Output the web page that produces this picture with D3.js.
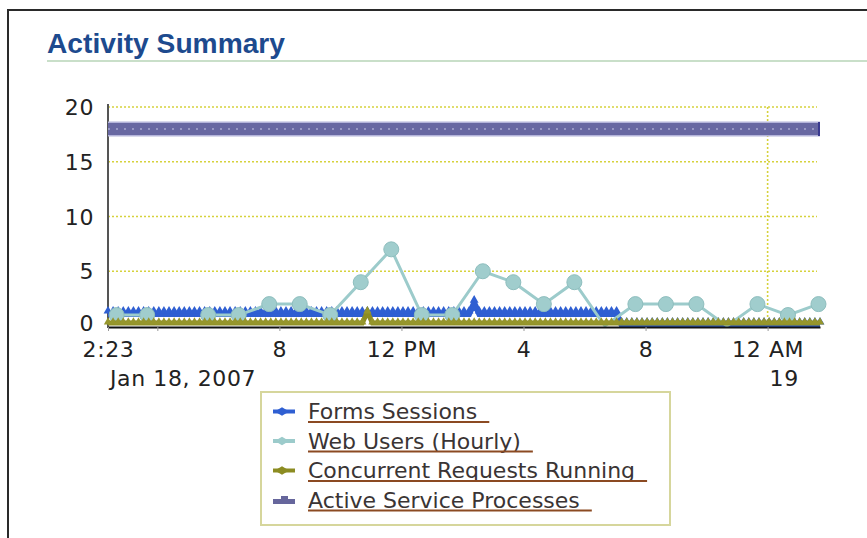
<!DOCTYPE html>
<html>
<head>
<meta charset="utf-8">
<script src="https://cdn.jsdelivr.net/npm/d3@7"></script>
<style>
body{margin:0;background:#fff;}
svg{display:block;font-family:"DejaVu Sans",Verdana,sans-serif;}
</style>
</head>
<body>
<svg width="867" height="538"></svg>
<script>
// sampled series: one value every 10 minutes from 2:23 AM
var startTime = "2007-01-18 02:23";
var endTime = "2007-01-19 01:43";
var stepMinutes = 10;

var formsSessions = [
  1,1,1,1,1,1,1,1,1,1,1,1,1,1,1,1,1,1,1,1,
  1,1,1,1,1,1,1,1,1,1,1,1,1,1,1,1,1,1,1,1,
  1,1,1,1,1,1,1,1,1,1,1,1,1,1,1,1,1,1,1,1,
  1,1,1,1,1,1,1,1,1,1,1,1,2,1,1,1,1,1,1,1,
  1,1,1,1,1,1,1,1,1,1,1,1,1,1,1,1,1,1,1,1,
  1,0,0,0,0,0,0,0,0,0,0,0,0,0,0,0,0,0,0,0,
  0,0,0,0,0,0,0,0,0,0,0,0,0,0,0,0,0,0,0,0,
  0];
var concurrentRequests = [
  0,0,0,0,0,0,0,0,0,0,0,0,0,0,0,0,0,0,0,0,
  0,0,0,0,0,0,0,0,0,0,0,0,0,0,0,0,0,0,0,0,
  0,0,0,0,0,0,0,0,0,0,0,1,0,0,0,0,0,0,0,0,
  0,0,0,0,0,0,0,0,0,0,0,0,0,0,0,0,0,0,0,0,
  0,0,0,0,0,0,0,0,0,0,0,0,0,0,0,0,0,0,0,0,
  0,0,0,0,0,0,0,0,0,0,0,0,0,0,0,0,0,0,0,0,
  0,0,0,0,0,0,0,0,0,0,0,0,0,0,0,0,0,0,0,0,
  0];
var activeProcesses = [
  18,18,18,18,18,18,18,18,18,18,18,18,18,18,18,18,18,18,18,18,
  18,18,18,18,18,18,18,18,18,18,18,18,18,18,18,18,18,18,18,18,
  18,18,18,18,18,18,18,18,18,18,18,18,18,18,18,18,18,18,18,18,
  18,18,18,18,18,18,18,18,18,18,18,18,18,18,18,18,18,18,18,18,
  18,18,18,18,18,18,18,18,18,18,18,18,18,18,18,18,18,18,18,18,
  18,18,18,18,18,18,18,18,18,18,18,18,18,18,18,18,18,18,18,18,
  18,18,18,18,18,18,18,18,18,18,18,18,18,18,18,18,18,18,18,18,
  18];

// hourly series
var webUserTimes = [
  "2007-01-18 02:40","2007-01-18 03:40","2007-01-18 04:40","2007-01-18 05:40",
  "2007-01-18 06:40","2007-01-18 07:40","2007-01-18 08:40","2007-01-18 09:40",
  "2007-01-18 10:40","2007-01-18 11:40","2007-01-18 12:40","2007-01-18 13:40",
  "2007-01-18 14:40","2007-01-18 15:40","2007-01-18 16:40","2007-01-18 17:40",
  "2007-01-18 18:40","2007-01-18 19:40","2007-01-18 20:40","2007-01-18 21:40",
  "2007-01-18 22:40","2007-01-18 23:40","2007-01-19 00:40","2007-01-19 01:40"];
var webUsers = [1,1,null,1,1,2,2,1,4,7,1,1,5,4,2,4,0,2,2,2,0,2,1,2];

var tickTimes = ["2007-01-18 02:23","2007-01-18 04:00","2007-01-18 08:00","2007-01-18 12:00",
                 "2007-01-18 16:00","2007-01-18 20:00","2007-01-19 00:00"];
var tickLabels = ["2:23","","8","12 PM","4","8","12 AM"];
var tickSubLabels = ["Jan 18, 2007","","","","","","19"];
var yTicks = [0,5,10,15,20];

var seriesNames = ["Forms Sessions","Web Users (Hourly)","Concurrent Requests Running","Active Service Processes"];
var seriesColors = ["#2f5fd2","#9ccbcb","#8c8c22","#66669c"];

var parseTime = d3.timeParse("%Y-%m-%d %H:%M");
var svg = d3.select("svg");
var plot = {left:108, right:820, top:107, bottom:326};

var x = d3.scaleTime()
          .domain([parseTime(startTime), parseTime(endTime)])
          .range([plot.left, plot.right]);
var y = d3.scaleLinear().domain([0,20]).range([plot.bottom, plot.top]);

var t0 = parseTime(startTime);
function sampled(values){
  return values.map(function(v,i){
    return {t: d3.timeMinute.offset(t0, i*stepMinutes), v: v};
  });
}
var formsData = sampled(formsSessions);
var concData = sampled(concurrentRequests);
var activeData = sampled(activeProcesses);
var webData = webUsers.map(function(v,i){ return {t: parseTime(webUserTimes[i]), v: v}; });

// frame + title
svg.append("path").attr("d","M8,538V10H867")
   .attr("fill","none").attr("stroke","#2a2a2a").attr("stroke-width",2);
svg.append("text").attr("x",47).attr("y",53)
   .attr("font-family","'Liberation Sans Narrow','Arial Narrow','Liberation Sans',sans-serif")
   .attr("font-weight","bold").attr("font-size",28).attr("fill","#1d4a8e")
   .attr("textLength",238).attr("lengthAdjust","spacingAndGlyphs")
   .text("Activity Summary");
svg.append("line").attr("x1",47).attr("x2",867).attr("y1",61).attr("y2",61)
   .attr("stroke","#c9dfc9").attr("stroke-width",2);

// grid
svg.selectAll(".hgrid").data(yTicks.filter(function(d){return d>0;}))
   .enter().append("line").attr("class","hgrid")
   .attr("x1",plot.left).attr("x2",plot.right-3)
   .attr("y1",function(d){return y(d);}).attr("y2",function(d){return y(d);})
   .attr("stroke","#d6d23c").attr("stroke-width",1.6).attr("stroke-dasharray","2,2");
var midnight = parseTime("2007-01-19 00:00");
svg.append("line").attr("x1",x(midnight)).attr("x2",x(midnight))
   .attr("y1",y(20)).attr("y2",y(0))
   .attr("stroke","#d6d23c").attr("stroke-width",1.6).attr("stroke-dasharray","2,2");

// y axis
svg.append("line").attr("x1",plot.left).attr("x2",plot.left).attr("y1",104).attr("y2",plot.bottom+2)
   .attr("stroke","#555").attr("stroke-width",2);
svg.selectAll(".ylab").data(yTicks).enter().append("text").attr("class","ylab")
   .attr("x",94).attr("y",function(d){return d===0 ? y(d)+5 : y(d)+8;})
   .attr("text-anchor","end").attr("font-size",22).attr("fill","#222")
   .attr("letter-spacing",0.6)
   .text(function(d){return d;});

var line = d3.line()
             .defined(function(d){return d.v!==null;})
             .x(function(d){return x(d.t);})
             .y(function(d){return y(d.v);});

// Active Service Processes band
svg.append("path").datum(activeData).attr("d",line).attr("fill","none")
   .attr("stroke","#b4b4da").attr("stroke-width",15);
svg.append("path").datum(activeData).attr("d",line).attr("fill","none")
   .attr("stroke","#6868a2").attr("stroke-width",12);
svg.append("path").datum(activeData).attr("d",line).attr("fill","none")
   .attr("stroke","#9898c4").attr("stroke-width",2).attr("stroke-dasharray","2,6");
svg.append("line").attr("x1",x(activeData[activeData.length-1].t)-1).attr("x2",x(activeData[activeData.length-1].t)-1)
   .attr("y1",y(18)-7).attr("y2",y(18)+7).attr("stroke","#3a3a90").attr("stroke-width",2);

// Forms Sessions
svg.append("path").datum(formsData).attr("d",line).attr("fill","none")
   .attr("stroke",seriesColors[0]).attr("stroke-width",6)
   .attr("transform","translate(0,-1)");
svg.selectAll(".fm").data(formsData).enter().append("path").attr("class","fm")
   .attr("d",d3.symbol().type(d3.symbolTriangle).size(34))
   .attr("transform",function(d){return "translate("+x(d.t)+","+(y(d.v)-4)+")";})
   .attr("fill",seriesColors[0]);

// Web Users
svg.append("path").datum(webData).attr("d",line).attr("fill","none")
   .attr("stroke",seriesColors[1]).attr("stroke-width",3);
svg.selectAll(".wm").data(webData.filter(function(d){return d.v!==null && d.v>0;}))
   .enter().append("circle").attr("class","wm")
   .attr("cx",function(d){return x(d.t);}).attr("cy",function(d){return y(d.v);})
   .attr("r",7.5).attr("fill","#a0cdcd").attr("stroke","#8ebebe").attr("stroke-width",1);

// Concurrent Requests
svg.append("path").datum(concData).attr("d",line).attr("fill","none")
   .attr("stroke",seriesColors[2]).attr("stroke-width",5)
   .attr("transform","translate(0,-3)");
svg.selectAll(".cm").data(concData).enter().append("path").attr("class","cm")
   .attr("d",d3.symbol().type(d3.symbolTriangle).size(30))
   .attr("transform",function(d){return "translate("+x(d.t)+","+(y(d.v)-4)+")";})
   .attr("fill","#96962c");

// x axis
var xAxis = d3.axisBottom(x)
              .tickValues(tickTimes.map(parseTime))
              .tickSize(4).tickSizeOuter(0)
              .tickFormat(function(d,i){return tickLabels[i];});
var gx = svg.append("g").attr("transform","translate(0,"+(plot.bottom+1)+")").call(xAxis);
gx.select(".domain").attr("stroke","#111").attr("stroke-width",2);
gx.selectAll(".tick line").attr("stroke","#999");
gx.selectAll(".tick text").attr("y",14).attr("font-size",22).attr("fill","#222")
  .attr("font-family","'DejaVu Sans',Verdana,sans-serif").attr("letter-spacing",0.6);
svg.selectAll(".sublab").data(tickTimes).enter().append("text").attr("class","sublab")
   .attr("x",function(d){return x(parseTime(d))+2;}).attr("y",386)
   .attr("font-size",22).attr("fill","#222").attr("letter-spacing",0.6)
   .text(function(d,i){return tickSubLabels[i];});

// legend
var legend = svg.append("g");
legend.append("rect").attr("x",261).attr("y",392).attr("width",409).attr("height",133)
      .attr("fill","#fff").attr("stroke","#d6d69c").attr("stroke-width",2);
seriesNames.forEach(function(name,i){
  var cy = 411.5 + i*29.5;
  var col = seriesColors[i];
  if(i<3){
    legend.append("line").attr("x1",273).attr("x2",295).attr("y1",cy).attr("y2",cy)
          .attr("stroke",col).attr("stroke-width",4);
    legend.append("path").attr("d",d3.symbol().type(d3.symbolDiamond).size(60))
          .attr("transform","translate(282,"+cy+") rotate(90)").attr("fill",col);
  } else {
    legend.append("rect").attr("x",273).attr("y",cy-1).attr("width",22).attr("height",5).attr("fill",col);
    legend.append("rect").attr("x",281).attr("y",cy-4).attr("width",7).attr("height",5).attr("fill",col);
  }
  var txt = legend.append("text").attr("x",308).attr("y",cy+7.5)
                  .attr("font-size",22).attr("fill","#3a3434").text(name);
  var w = txt.node().getComputedTextLength();
  legend.append("line").attr("x1",308).attr("x2",308+w+12).attr("y1",cy+10.5).attr("y2",cy+10.5)
        .attr("stroke","#8b4a22").attr("stroke-width",2);
});
</script>
</body>
</html>
